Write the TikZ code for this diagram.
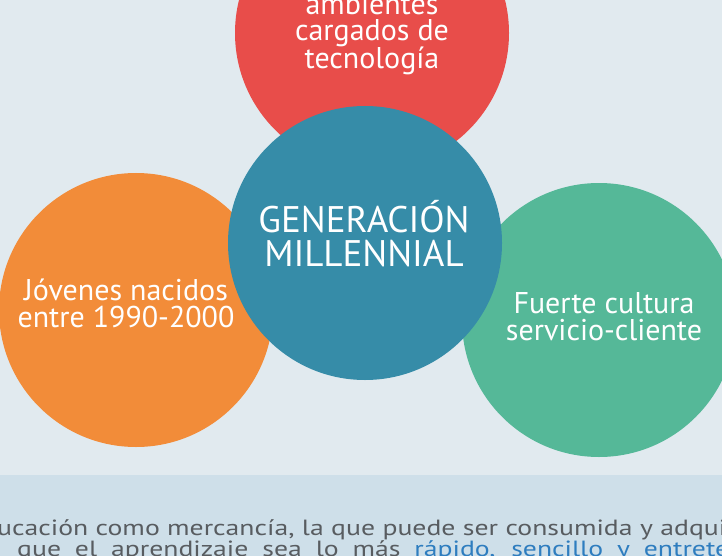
\documentclass[tikz,border=0pt]{standalone}
\usepackage{fontspec}
\setmainfont{PT Sans}
\newfontfamily\bandfont{PT Sans}[FakeStretch=1.26]
\usepackage{tikz}
\usetikzlibrary{positioning}

\definecolor{fondo}{HTML}{E1EAEF}
\definecolor{banda}{HTML}{CEDFE9}
\definecolor{rojo}{HTML}{E84D4A}
\definecolor{azul}{HTML}{368CA8}
\definecolor{naranja}{HTML}{F28C39}
\definecolor{verde}{HTML}{55B898}
\definecolor{gristxt}{HTML}{585C60}
\definecolor{enlace}{HTML}{2E7DBF}

\begin{document}
\begin{tikzpicture}[x=1pt, y=-1pt,
  bubble/.style={circle, minimum size=274pt, inner sep=0pt},
  bubbletext/.style={anchor=base, align=center, text=white, inner sep=0pt},
  bandtext/.style={anchor=base west, inner sep=0pt, text=gristxt, font=\bandfont\fontsize{22}{22}\selectfont}]
  \useasboundingbox (0,0) rectangle (722,556);
  \clip (0,0) rectangle (722,556);
  \fill[fondo] (0,0) rectangle (722,556);
  \fill[banda] (0,475) rectangle (722,556);
  % circles
  \node[bubble, fill=rojo] (tec) at (372,33) {};
  \node[bubble, fill=naranja] (jov) at (136,310) {};
  \node[bubble, fill=verde] (cli) at (599,320) {};
  \node[bubble, fill=azul] (gen) at (365,243) {};
  % texts (anchored at the last line)
  \node[bubbletext, font=\fontsize{30}{26}\selectfont] (tectxt) at (372,69)
    {ambientes\\cargados de\\tecnología};
  \node[bubbletext, font=\fontsize{30}{27}\selectfont] (jovtxt) at (126,327)
    {Jóvenes nacidos\\entre 1990-2000};
  \node[bubbletext, font=\fontsize{30}{27}\selectfont] (clitxt) at (604,340)
    {Fuerte cultura\\servicio-cliente};
  \node[bubbletext, font=\fontsize{37}{34}\selectfont] (gentxt) at (364,266)
    {GENERACIÓN\\MILLENNIAL};
  % bottom band
  \node[bandtext] (linea1) at (-3,535)
    {ucación como mercancía, la que puede ser consumida y adqui};
  \node[bandtext] (linea2) at (17,556)
    {\makebox[712pt][s]{que el aprendizaje sea lo más \textcolor{enlace}{rápido, sencillo y entrete}}};
\end{tikzpicture}
\end{document}
